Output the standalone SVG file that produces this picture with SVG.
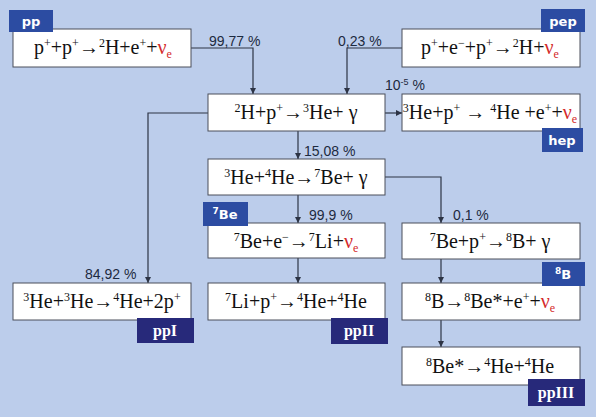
<svg xmlns="http://www.w3.org/2000/svg" width="596" height="417" viewBox="0 0 596 417">
<defs>
<marker id="ah" markerUnits="userSpaceOnUse" markerWidth="8" markerHeight="8" refX="6" refY="3" orient="auto">
<path d="M0,0 L6,3 L0,6 Z" fill="#2d3445"/>
</marker>
<style>
.box{fill:#fff;stroke:#4a4f5a;stroke-width:1}
.eq{font-family:"Liberation Serif","Times New Roman",serif;font-size:20px;fill:#111;text-anchor:middle}
.sup{font-size:12px;baseline-shift:7px}
.sub{font-size:12px;baseline-shift:-4px}
.nu{fill:#d42a2a}
.tab{fill:#2c4ca2}
.tab2{fill:#27297a}
.tl{font-family:"DejaVu Sans","Liberation Sans",sans-serif;font-weight:bold;font-size:13px;fill:#fff;text-anchor:middle}
.tl2{font-family:"Liberation Serif","Times New Roman",serif;font-weight:bold;font-size:16px;fill:#fff;text-anchor:middle}
.pct{font-family:"Liberation Sans",Arial,sans-serif;font-size:14px;fill:#1c2a40}
.ln{fill:none;stroke:#2d3445;stroke-width:1.2}
</style>
</defs>
<rect width="596" height="417" fill="#bccdeb"/>

<g id="connectors">
<path class="ln" d="M191,48 H253 V94" marker-end="url(#ah)"/>
<path class="ln" d="M402,48 H347 V94" marker-end="url(#ah)"/>
<path class="ln" d="M208,113 H148 V283" marker-end="url(#ah)"/>
<path class="ln" d="M385,113 H402" marker-end="url(#ah)"/>
<path class="ln" d="M298,131 V159" marker-end="url(#ah)"/>
<path class="ln" d="M385,177 H441 V223" marker-end="url(#ah)"/>
<path class="ln" d="M298,195 V223" marker-end="url(#ah)"/>
<path class="ln" d="M298,258 V283" marker-end="url(#ah)"/>
<path class="ln" d="M441,259 V283" marker-end="url(#ah)"/>
<path class="ln" d="M441,320 V347" marker-end="url(#ah)"/>
<text class="pct" x="209" y="46">99,77 %</text>
<text class="pct" x="338" y="46">0,23 %</text>
<text class="pct" x="385" y="90">10<tspan font-size="9" baseline-shift="5">-5</tspan> %</text>
<text class="pct" x="304" y="156">15,08 %</text>
<text class="pct" x="309" y="220">99,9 %</text>
<text class="pct" x="453" y="220">0,1 %</text>
<text class="pct" x="85" y="279">84,92 %</text>
</g>

<g id="pp">
<rect class="box" x="13" y="29" width="178" height="38"/>
<rect class="tab" x="9" y="10" width="44" height="22"/>
<text class="tl" x="31" y="26">pp</text>
<text class="eq" x="103" y="54">p<tspan class="sup">+</tspan>+p<tspan class="sup">+</tspan>→<tspan class="sup">2</tspan>H+e<tspan class="sup">+</tspan>+<tspan class="nu">ν<tspan class="sub">e</tspan></tspan></text>
</g>

<g id="pep">
<rect class="box" x="402" y="29" width="178" height="38"/>
<rect class="tab" x="541" y="9" width="44" height="23"/>
<text class="tl" x="563" y="26">pep</text>
<text class="eq" x="490" y="54">p<tspan class="sup">+</tspan>+e<tspan class="sup">−</tspan>+p<tspan class="sup">+</tspan>→<tspan class="sup">2</tspan>H+<tspan class="nu">ν<tspan class="sub">e</tspan></tspan></text>
</g>

<g id="n2H">
<rect class="box" x="208" y="94" width="177" height="37"/>
<text class="eq" x="296" y="119"><tspan class="sup">2</tspan>H+p<tspan class="sup">+</tspan>→<tspan class="sup">3</tspan>He+ γ</text>
</g>

<g id="hep">
<rect class="box" x="402" y="94" width="178" height="37"/>
<text class="eq" x="490" y="119"><tspan class="sup">3</tspan>He+p<tspan class="sup">+</tspan> → <tspan class="sup">4</tspan>He +e<tspan class="sup">+</tspan>+<tspan class="nu">ν<tspan class="sub">e</tspan></tspan></text>
<rect class="tab" x="542" y="128" width="41" height="24"/>
<text class="tl" x="562" y="145">hep</text>
</g>

<g id="n3He4He">
<rect class="box" x="208" y="159" width="177" height="36"/>
<text class="eq" x="296" y="184"><tspan class="sup">3</tspan>He+<tspan class="sup">4</tspan>He→<tspan class="sup">7</tspan>Be+ γ</text>
</g>

<g id="n7Be_e">
<rect class="box" x="208" y="223" width="177" height="35"/>
<text class="eq" x="296" y="248"><tspan class="sup">7</tspan>Be+e<tspan class="sup">−</tspan>→<tspan class="sup">7</tspan>Li+<tspan class="nu">ν<tspan class="sub">e</tspan></tspan></text>
<rect class="tab" x="203" y="202" width="45" height="24"/>
<text class="tl" x="225" y="219"><tspan font-size="9" baseline-shift="5">7</tspan>Be</text>
</g>

<g id="n7Be_p">
<rect class="box" x="402" y="223" width="178" height="36"/>
<text class="eq" x="490" y="248"><tspan class="sup">7</tspan>Be+p<tspan class="sup">+</tspan>→<tspan class="sup">8</tspan>B+ γ</text>
</g>

<g id="ppI">
<rect class="box" x="13" y="283" width="178" height="37"/>
<text class="eq" x="102" y="308"><tspan class="sup">3</tspan>He+<tspan class="sup">3</tspan>He→<tspan class="sup">4</tspan>He+2p<tspan class="sup">+</tspan></text>
<rect class="tab2" x="137" y="318" width="57" height="25"/>
<text class="tl2" x="165" y="336">ppI</text>
</g>

<g id="ppII">
<rect class="box" x="208" y="283" width="177" height="37"/>
<text class="eq" x="296" y="308"><tspan class="sup">7</tspan>Li+p<tspan class="sup">+</tspan>→<tspan class="sup">4</tspan>He+<tspan class="sup">4</tspan>He</text>
<rect class="tab2" x="331" y="318" width="57" height="26"/>
<text class="tl2" x="359" y="336">ppII</text>
</g>

<g id="n8B">
<rect class="box" x="402" y="283" width="178" height="37"/>
<text class="eq" x="490" y="308"><tspan class="sup">8</tspan>B→<tspan class="sup">8</tspan>Be*+e<tspan class="sup">+</tspan>+<tspan class="nu">ν<tspan class="sub">e</tspan></tspan></text>
<rect class="tab" x="542" y="262" width="43" height="24"/>
<text class="tl" x="563" y="279"><tspan font-size="9" baseline-shift="5">8</tspan>B</text>
</g>

<g id="ppIII">
<rect class="box" x="402" y="347" width="178" height="38"/>
<text class="eq" x="490" y="373"><tspan class="sup">8</tspan>Be*→<tspan class="sup">4</tspan>He+<tspan class="sup">4</tspan>He</text>
<rect class="tab2" x="528" y="379" width="57" height="27"/>
<text class="tl2" x="556" y="398">ppIII</text>
</g>
</svg>
